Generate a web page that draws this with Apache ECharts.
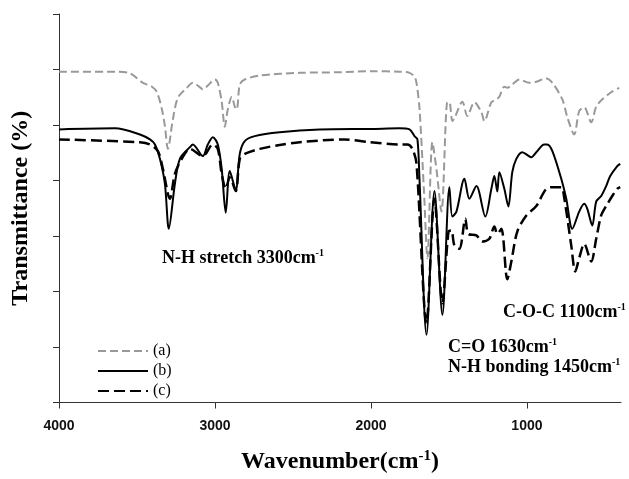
<!DOCTYPE html>
<html>
<head>
<meta charset="utf-8">
<script src="https://cdn.jsdelivr.net/npm/echarts@6/dist/echarts.min.js"></script>
<style>
  html, body { margin: 0; padding: 0; background: #fff; }
  #chart { width: 629px; height: 479px; }
</style>
</head>
<body>
<div id="chart"></div>
<script>
// wavenumber (cm-1), transmittance (relative units, 0-7 tick spacing)
const specA = [
  [4000, 5.96], [3641, 5.96], [3545, 5.93], [3462, 5.76], [3404, 5.69], [3372, 5.59],
  [3340, 5.28], [3321, 4.98], [3302, 4.57], [3270, 5.10], [3238, 5.49], [3180, 5.67],
  [3142, 5.76], [3092, 5.67], [3078, 5.64], [3046, 5.71], [3001, 5.82], [2982, 5.76],
  [2957, 5.42], [2937, 4.97], [2918, 5.28], [2892, 5.51], [2873, 5.33], [2860, 5.28],
  [2841, 5.73], [2809, 5.82], [2713, 5.89], [2457, 5.94], [2200, 5.95], [2000, 5.97],
  [1817, 5.96], [1753, 5.94], [1721, 5.87], [1708, 5.76], [1689, 5.30], [1660, 3.80],
  [1638, 2.60], [1606, 4.69], [1580, 4.20], [1548, 3.44], [1510, 5.41], [1497, 5.41],
  [1478, 5.07], [1459, 5.16], [1414, 5.42], [1382, 5.16], [1337, 5.41], [1292, 5.23],
  [1273, 5.07], [1228, 5.41], [1196, 5.46], [1177, 5.51], [1145, 5.69], [1126, 5.67],
  [1094, 5.73], [1049, 5.82], [985, 5.76], [940, 5.78], [876, 5.84], [837, 5.76],
  [773, 5.46], [741, 5.14], [697, 4.83], [665, 5.25], [633, 5.32], [588, 5.05],
  [556, 5.33], [518, 5.46], [460, 5.59], [408, 5.67]
]
const specB = [
  [4000, 4.92], [3641, 4.94], [3481, 4.83], [3417, 4.74], [3385, 4.65], [3353, 4.39],
  [3321, 3.94], [3296, 3.13], [3257, 3.94], [3225, 4.39], [3161, 4.60], [3142, 4.65],
  [3078, 4.44], [3046, 4.65], [3014, 4.78], [2982, 4.65], [2957, 4.21], [2931, 3.42],
  [2905, 4.17], [2867, 3.83], [2841, 4.48], [2809, 4.71], [2745, 4.80], [2585, 4.87],
  [2329, 4.92], [2000, 4.93], [1817, 4.94], [1753, 4.92], [1721, 4.80], [1702, 4.74],
  [1689, 4.03], [1644, 1.22], [1593, 3.81], [1542, 1.58], [1497, 3.88], [1478, 3.35],
  [1452, 3.44], [1401, 4.03], [1369, 3.67], [1324, 3.90], [1267, 3.35], [1228, 3.85],
  [1209, 4.08], [1190, 3.80], [1177, 4.15], [1145, 3.85], [1119, 3.53], [1094, 4.15],
  [1068, 4.39], [1030, 4.51], [972, 4.42], [940, 4.51], [889, 4.65], [870, 4.65],
  [837, 4.53], [780, 4.03], [748, 3.67], [709, 3.13], [665, 3.44], [633, 3.58],
  [613, 3.49], [581, 3.19], [556, 3.62], [524, 3.72], [492, 3.90], [466, 4.08],
  [421, 4.26], [402, 4.30]
]
const specC = [
  [4000, 4.74], [3481, 4.69], [3417, 4.65], [3366, 4.53], [3334, 4.21], [3289, 3.67],
  [3257, 4.12], [3213, 4.39], [3161, 4.57], [3078, 4.44], [3014, 4.65], [2982, 4.57],
  [2957, 4.12], [2931, 3.85], [2905, 4.06], [2867, 3.81], [2841, 4.39], [2809, 4.48],
  [2713, 4.57], [2585, 4.64], [2457, 4.69], [2169, 4.74], [2009, 4.69], [1817, 4.65],
  [1766, 4.65], [1734, 4.57], [1708, 4.30], [1644, 1.43], [1593, 3.67], [1542, 1.79],
  [1503, 3.08], [1484, 3.10], [1465, 2.83], [1433, 2.77], [1395, 3.31], [1376, 3.04],
  [1324, 3.01], [1286, 2.90], [1241, 2.95], [1209, 3.17], [1190, 3.04], [1164, 3.13],
  [1126, 2.22], [1100, 2.54], [1062, 3.08], [1004, 3.37], [940, 3.54], [876, 3.85],
  [824, 3.88], [780, 3.88], [760, 3.67], [716, 2.83], [690, 2.36], [665, 2.60],
  [633, 2.86], [588, 2.54], [556, 2.95], [524, 3.37], [492, 3.54], [453, 3.72],
  [421, 3.85], [402, 3.88]
]
const xTicks = [1000, 2000, 3000, 4000]
const seriesNames = ['(a)', '(b)', '(c)']

const serif = "'Liberation Serif', 'Times New Roman', serif"
const sup = { fontSize: 10, fontWeight: 'bold', fontFamily: serif, color: '#000', padding: [0, 0, 10, 0] }
const lbl = { fontSize: 18, fontWeight: 'bold', fontFamily: serif, color: '#000' }

function note(left, top, main) {
  return {
    type: 'text',
    left: left,
    top: top,
    style: {
      text: '{m|' + main + '}{s|-1}',
      rich: { m: lbl, s: sup }
    }
  }
}

const chart = echarts.init(document.getElementById('chart'))
chart.setOption({
  animation: false,
  backgroundColor: '#fff',
  grid: { left: 59, right: 8, top: 14, bottom: 74 },
  legend: {
    data: seriesNames,
    orient: 'vertical',
    left: 92,
    top: 338,
    itemWidth: 50,
    itemHeight: 14,
    itemGap: 4,
    itemStyle: { opacity: 0 },
    textStyle: { fontFamily: serif, fontSize: 16, color: '#000' }
  },
  xAxis: {
    type: 'value',
    inverse: true,
    min: 397,
    max: 4000,
    name: '{a|Wavenumber(cm}{s|-1}{a|)}',
    nameLocation: 'middle',
    nameGap: 46,
    nameTextStyle: {
      rich: {
        a: { fontSize: 24, fontWeight: 'bold', fontFamily: serif, color: '#000' },
        s: { fontSize: 15, fontWeight: 'bold', fontFamily: serif, color: '#000', padding: [0, 0, 12, 0] }
      }
    },
    axisLine: { lineStyle: { color: '#333', width: 1 } },
    axisTick: { inside: false, length: 6, customValues: xTicks, lineStyle: { color: '#333' } },
    axisLabel: {
      customValues: xTicks,
      formatter: v => String(v),
      margin: 17,
      fontSize: 14,
      fontWeight: 'bold',
      fontFamily: "'Liberation Sans', Arial, sans-serif",
      color: '#111'
    },
    splitLine: { show: false }
  },
  yAxis: {
    type: 'value',
    min: 0,
    max: 7,
    interval: 1,
    name: 'Transmittance (%)',
    nameLocation: 'middle',
    nameGap: 26,
    nameTextStyle: { fontSize: 24, fontWeight: 'bold', fontFamily: serif, color: '#000' },
    axisLine: { show: true, lineStyle: { color: '#333', width: 1 } },
    axisTick: { show: true, length: 6, lineStyle: { color: '#333' } },
    axisLabel: { show: false },
    splitLine: { show: false }
  },
  graphic: [
    note(162, 248, 'N-H stretch 3300cm'),
    note(503, 302, 'C-O-C 1100cm'),
    note(448, 337, 'C=O 1630cm'),
    note(448, 357, 'N-H bonding 1450cm')
  ],
  series: [{
    name: seriesNames[0],
    type: 'line',
    data: specA,
    symbol: 'none',
    smooth: 0.3,
    color: '#999',
    lineStyle: { color: '#999', width: 2, type: [8, 4] }
  }, {
    name: seriesNames[1],
    type: 'line',
    data: specB,
    symbol: 'none',
    smooth: 0.3,
    color: '#000',
    lineStyle: { color: '#000', width: 2 }
  }, {
    name: seriesNames[2],
    type: 'line',
    data: specC,
    symbol: 'none',
    smooth: 0.3,
    color: '#000',
    lineStyle: { color: '#000', width: 2.5, type: [11, 5] }
  }]
})
</script>
</body>
</html>
